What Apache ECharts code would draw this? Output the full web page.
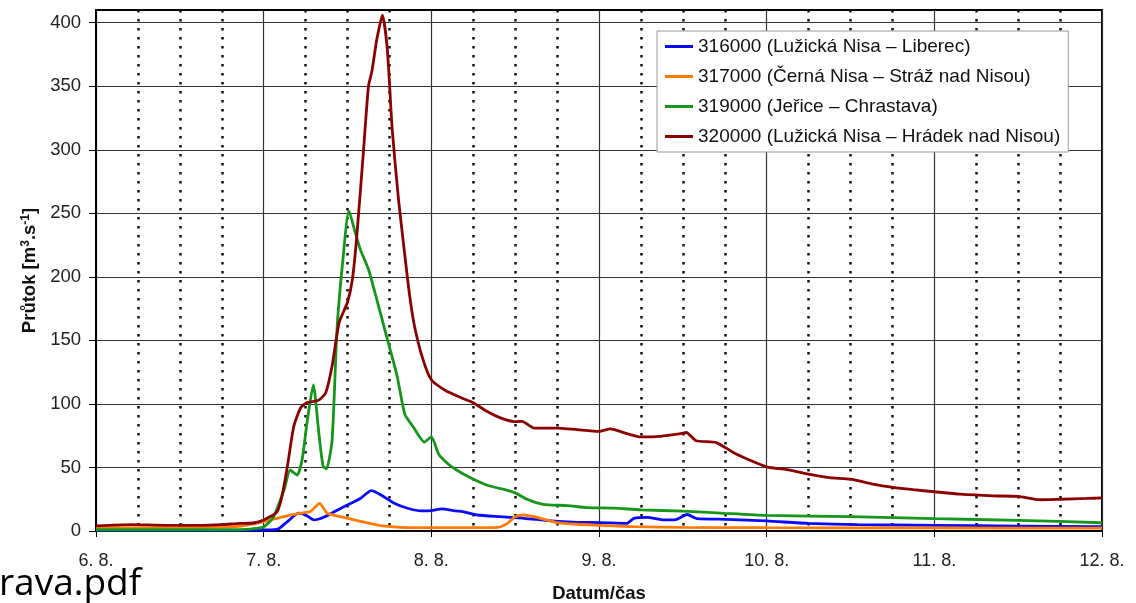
<!DOCTYPE html>
<html>
<head>
<meta charset="utf-8">
<title>Průtok</title>
<script src="https://cdn.jsdelivr.net/npm/echarts@6.0.0/dist/echarts.min.js"></script>
<style type="text/css">
html,body{margin:0;padding:0;background:#fff;}
#chart{width:1136px;height:603px;}
</style>
</head>
<body>
<div id="chart"></div>
<script type="text/javascript">
// hours since 6. 8. 00:00, flow in m3/s
var seriesNames = ['316000 (Lužická Nisa – Liberec)', '317000 (Černá Nisa – Stráž nad Nisou)', '319000 (Jeřice – Chrastava)', '320000 (Lužická Nisa – Hrádek nad Nisou)'];
var dayLabels = ['6. 8.', '7. 8.', '8. 8.', '9. 8.', '10. 8.', '11. 8.', '12. 8.'];
var yTicks = [0, 50, 100, 150, 200, 250, 300, 350, 400];

var liberecHours = [0, 10, 20, 24, 25.5, 26.2, 27.4, 29, 30, 31.2, 32.6, 34.6, 36.5, 37.9, 39.4, 40.8, 42.7, 44.6, 46.6, 48, 49.5, 51.4, 52.5, 54.6, 57.9, 61.3, 65.1, 68.9, 72.2, 76, 77, 78.9, 81.3, 83, 84.6, 86.1, 90.2, 96, 102, 109, 120, 132, 144];
var liberecFlow = [0.5, 0.5, 0.5, 0.8, 1, 2, 7.4, 14, 12.6, 8.7, 10.8, 16.6, 21.8, 25.8, 31.8, 28.4, 21.8, 17.9, 15.8, 16, 17.4, 15.8, 15.3, 12.6, 11.3, 10, 7.9, 6.8, 6.6, 6, 10, 10.8, 8.7, 9, 13, 9.7, 9.2, 7.9, 6, 5, 4.5, 3.9, 3.4];

var strazHours = [0, 12, 20, 22, 24, 26.9, 29.3, 30.7, 32, 33.1, 35, 37.4, 39.8, 42.2, 44.6, 52, 57.5, 58.9, 60, 61.3, 63.6, 66, 68.9, 72.2, 77, 84, 96, 120, 144];
var strazFlow = [2.5, 2.5, 3.4, 5, 7.4, 11.3, 14, 15.3, 21.8, 14, 11.3, 8.2, 5.3, 3.4, 2.6, 2.6, 2.9, 6, 11.3, 12.6, 10, 6.6, 5.3, 4.5, 3.4, 2.9, 2.6, 2.4, 2.2];

var chrastavaHours = [0, 20, 22, 23.5, 24, 25.4, 26.9, 27.8, 28.8, 29.5, 30.2, 31.1, 31.9, 32.5, 33, 33.8, 34.5, 35.3, 36.2, 37.1, 37.8, 39, 40.2, 41.6, 43.1, 44.2, 45.4, 47, 48, 49.1, 50.8, 53.2, 56, 58.9, 60, 61.7, 64, 67.5, 70.3, 74.1, 78, 84, 90, 96, 108, 120, 132, 144];
var chrastavaFlow = [1, 1, 1.5, 2.5, 3, 11, 32, 48, 44, 56, 85, 115, 77, 51, 49, 72, 159, 211, 252, 235, 222, 206, 182, 153, 122, 92, 82, 70, 74, 60, 51, 43, 36, 32, 30, 25, 21, 20, 18.4, 18, 16.6, 15.7, 13.9, 12.3, 11.3, 9.7, 8.4, 6.5];

var hradekHours = [0, 5, 10, 15, 18, 20.6, 22.5, 24, 25.9, 26.6, 27.4, 28.3, 29.3, 30.2, 31.9, 32.9, 33.8, 34.8, 36, 36.7, 37.3, 38.3, 39, 39.5, 40.2, 41, 41.7, 42.4, 43.3, 44.1, 44.9, 45.6, 46.8, 48, 49.9, 52.2, 54, 56, 57.9, 60, 61, 62.7, 66, 68.9, 72, 73.6, 76, 78, 80.8, 83.7, 84.5, 85.9, 88.8, 91.2, 93.3, 96, 99.3, 102, 105, 108, 111.2, 114.1, 117, 120, 123.7, 128.4, 132, 135.1, 138, 141.8, 144];
var hradekFlow = [4, 5, 4.5, 4.5, 5, 6, 6.3, 8.7, 15, 27, 51, 82, 97, 101, 103, 109, 130, 164, 180, 198, 230, 300, 350, 362, 387, 406, 379, 316, 261, 222, 185, 161, 135, 119, 111, 105, 101, 94, 89, 86, 86.3, 81, 81, 79.7, 78.4, 80.3, 76.6, 74, 74.5, 76.6, 77.5, 71, 69.6, 61.8, 56.5, 50.5, 48, 44.8, 42, 40.8, 36.9, 34.3, 32.5, 30.9, 29, 27.7, 27.2, 24.6, 25, 25.6, 26];

var colors = ['#0a0aff', '#ff7a00', '#16961a', '#8b0000'];

function pairs(hours, flow) {
    return hours.map(function (h, i) { return [h, flow[i]]; });
}

var chart = echarts.init(document.getElementById('chart'));
var labelFont = 'Liberation Sans, Arial, sans-serif';

function lineSeries(idx, hours, flow) {
    return {
        name: seriesNames[idx],
        type: 'line',
        data: pairs(hours, flow),
        showSymbol: false,
        smooth: 0.2,
        lineStyle: { width: 2.8, color: colors[idx] },
        itemStyle: { color: colors[idx] }
    };
}

var option = {
    animation: false,
    backgroundColor: '#fff',
    color: colors,
    grid: {
        left: 96,
        right: 34,
        top: 10,
        bottom: 72,
        outerBoundsMode: 'none',
        containLabel: false,
        show: true,
        backgroundColor: '#fff',
        borderColor: '#000',
        borderWidth: 2
    },
    legend: {
        orient: 'vertical',
        left: 657,
        top: 31,
        padding: [6, 8, 6, 8],
        itemGap: 11,
        itemWidth: 28,
        itemHeight: 3,
        icon: 'rect',
        backgroundColor: '#fff',
        borderColor: '#999',
        borderWidth: 1,
        borderRadius: 0,
        data: seriesNames,
        textStyle: { fontFamily: labelFont, fontSize: 19, color: '#111' }
    },
    xAxis: {
        type: 'value',
        min: 0,
        max: 144,
        interval: 24,
        name: 'Datum/čas',
        nameLocation: 'middle',
        nameGap: 53,
        nameTextStyle: { fontFamily: labelFont, fontSize: 18.5, fontWeight: 'bold', color: '#111' },
        axisLine: { show: true, lineStyle: { color: '#000', width: 2 } },
        axisTick: { show: true, length: 6, lineStyle: { color: '#000' } },
        axisLabel: {
            margin: 21,
            fontFamily: labelFont,
            fontSize: 18,
            color: '#222',
            formatter: function (v) { return dayLabels[Math.round(v / 24)]; }
        },
        splitLine: { show: true, lineStyle: { color: '#333', width: 1.2 } },
        minorTick: { show: false, splitNumber: 4 },
        minorSplitLine: { show: true, lineStyle: { color: '#111', width: 2.5, type: [2.5, 6.5] } }
    },
    yAxis: {
        type: 'value',
        min: 0,
        max: 410,
        interval: 50,
        name: '{b|Průtok [m}{sup|3}{b|.s}{sup|-1}{b|]}',
        nameLocation: 'middle',
        nameRotate: 90,
        nameGap: 55,
        nameTextStyle: {
            rich: {
                b: { fontFamily: labelFont, fontSize: 18.5, fontWeight: 'bold', color: '#111' },
                sup: { fontFamily: labelFont, fontSize: 12, fontWeight: 'bold', color: '#111', padding: [0, 0, 9, 0] }
            }
        },
        axisLine: { show: true, lineStyle: { color: '#000', width: 2 } },
        axisTick: { show: true, length: 7, lineStyle: { color: '#000' }, customValues: yTicks },
        axisLabel: {
            margin: 15,
            fontFamily: labelFont,
            fontSize: 18.5,
            color: '#222',
            customValues: yTicks
        },
        splitLine: { show: true, lineStyle: { color: '#333', width: 1.2 } }
    },
    graphic: [{
        type: 'text',
        x: -1,
        y: 584,
        style: {
            text: 'rava.pdf',
            font: '37px "Open Sans", sans-serif',
            fill: '#000',
            verticalAlign: 'middle'
        }
    }],
    series: [
        lineSeries(0, liberecHours, liberecFlow),
        lineSeries(1, strazHours, strazFlow),
        lineSeries(2, chrastavaHours, chrastavaFlow),
        lineSeries(3, hradekHours, hradekFlow)
    ]
};

chart.setOption(option);
</script>
</body>
</html>
